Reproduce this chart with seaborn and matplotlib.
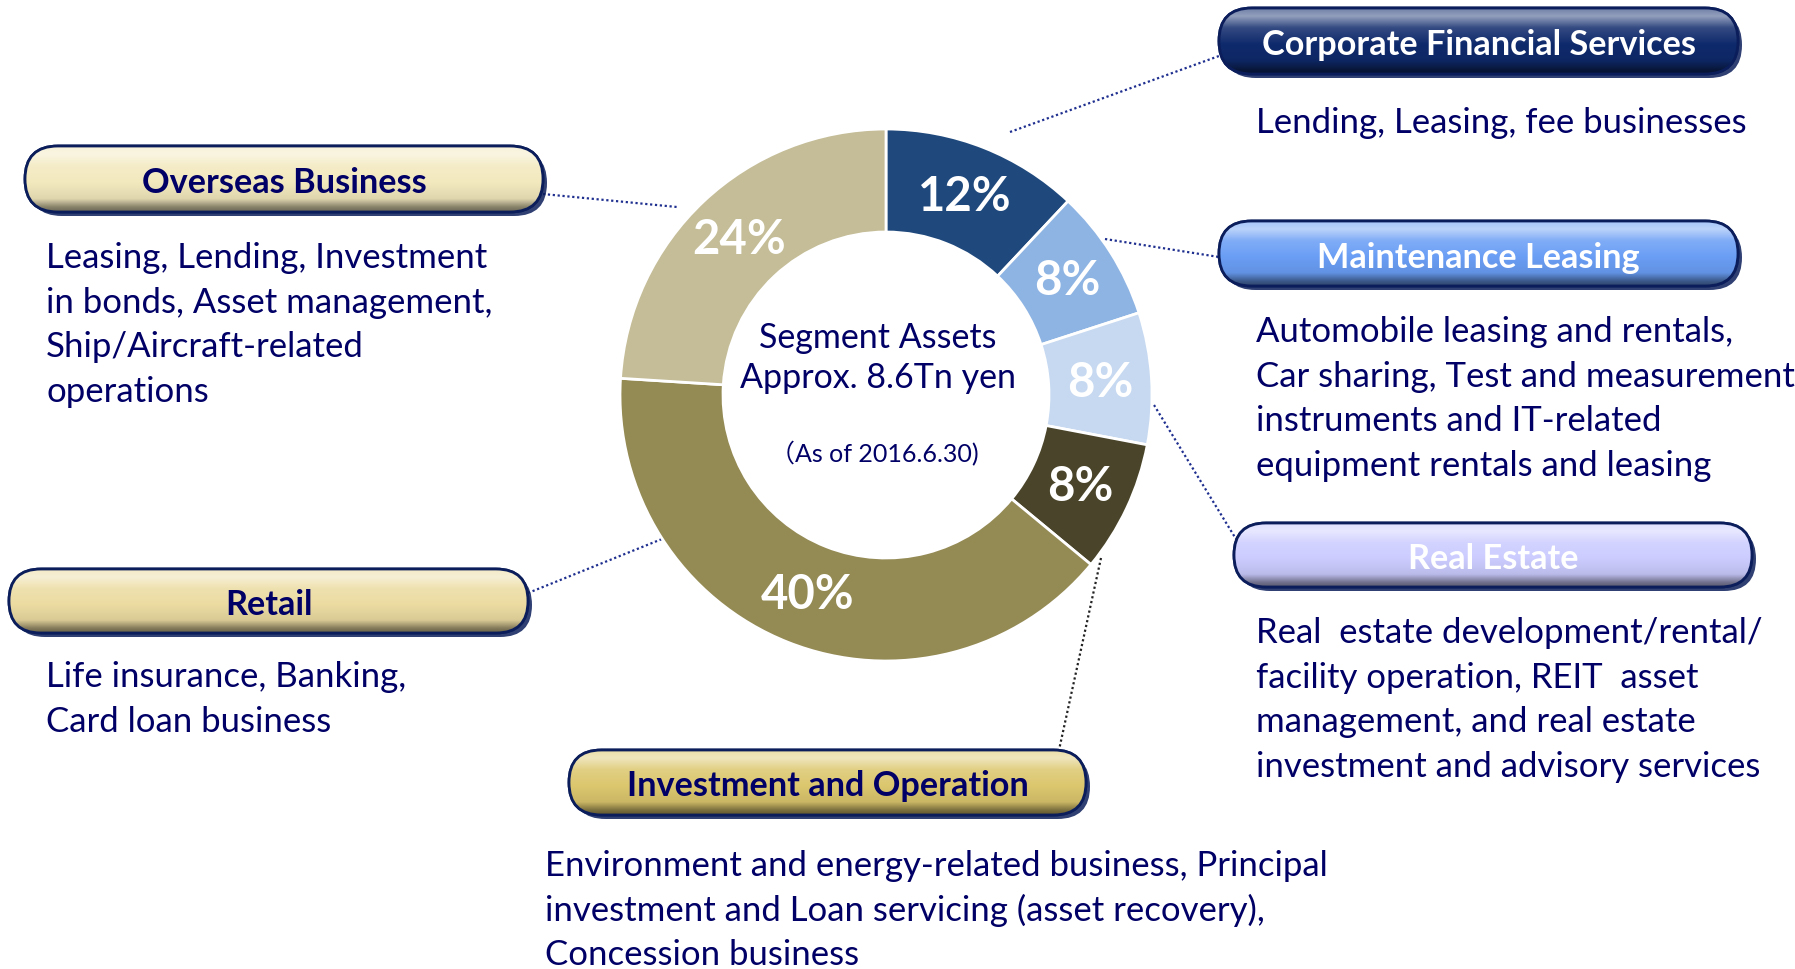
import numpy as np
import matplotlib
matplotlib.use("Agg")
import matplotlib.pyplot as plt
import seaborn as sns
from matplotlib.patches import FancyBboxPatch
from matplotlib.colors import to_rgb

sns.set_theme(style="white")
plt.rcParams['font.family'] = ['Lato', 'Noto Sans CJK JP', 'DejaVu Sans']

# data
segments = ["Corporate Financial Services", "Maintenance Leasing", "Real Estate",
            "Investment and Operation", "Retail", "Overseas Business"]
shares = [12, 8, 8, 8, 40, 24]
wedge_colors = ["#1F497D", "#8EB4E3", "#C6D9F1", "#4A452A", "#948A54", "#C4BD97"]
pill_colors = ["#0F2A6C", "#6A9EF5", "#CCCCFF", "#DCC76E", "#ECDCA2", "#F3E9BE"]
title_colors = ["white", "white", "white", "#000066", "#000066", "#000066"]
descriptions = [
    ["Lending, Leasing, fee businesses"],
    ["Automobile leasing and rentals,", "Car sharing, Test and measurement",
     "instruments and IT-related", "equipment rentals and leasing"],
    ["Real  estate development/rental/", "facility operation, REIT  asset",
     "management, and real estate", "investment and advisory services"],
    ["Environment and energy-related business, Principal",
     "investment and Loan servicing (asset recovery),", "Concession business"],
    ["Life insurance, Banking,", "Card loan business"],
    ["Leasing, Lending, Investment", "in bonds, Asset management,",
     "Ship/Aircraft-related", "operations"],
]
center_lines = ["Segment Assets", "Approx. 8.6Tn yen"]
date_note = "（As of 2016.6.30)"

W, H = 1795, 970
NAVY = "#000066"

# layout in pixels (top-left origin): pill box, description start, connector
pills = [(1219, 9, 519, 66), (1219, 222, 519, 65), (1234, 524, 518, 64),
         (569, 751, 517, 65), (9, 570, 519, 64), (25, 147, 518, 66)]
desc_pos = [(1256, 133), (1256, 342), (1256, 643), (545, 876), (46, 687), (46, 268)]
connectors = [((1010, 133), (1219, 57)), ((1105, 240), (1219, 258)),
              ((1154, 406), (1236, 540)), ((1101, 559), (1059, 751)),
              ((528, 594), (662, 540)), ((543, 195), (677, 208))]
conn_colors = ["#1F2F8F", "#1F2F8F", "#1F2F8F", "#222222", "#1F2F8F", "#1F2F8F"]
line_gap = 44.6


def fy(y):
    return H - y


fig = plt.figure(figsize=(W / 100, H / 100), dpi=100)
ax = fig.add_axes([0, 0, 1, 1])

# donut
wedges, _, pcts = ax.pie(shares, colors=wedge_colors, startangle=90, counterclock=False,
                         radius=266, center=(886, fy(396)),
                         wedgeprops=dict(width=103, edgecolor="white", linewidth=2),
                         autopct=lambda p: f"{p:.0f}%", pctdistance=0.806,
                         textprops=dict(color="white", fontsize=34, fontweight="bold"))
for w in wedges:
    w.set_zorder(2)
for t in pcts:
    t.set_zorder(3)

ax.text(878, fy(338), center_lines[0], ha="center", va="center", fontsize=24.5, color=NAVY, zorder=4)
ax.text(878, fy(378), center_lines[1], ha="center", va="center", fontsize=24.5, color=NAVY, zorder=4)
ax.text(874, fy(454), date_note, ha="center", va="center", fontsize=18, color=NAVY, zorder=4)

# connectors
for (p0, p1), c in zip(connectors, conn_colors):
    ax.plot([p0[0], p1[0]], [fy(p0[1]), fy(p1[1])], color=c, lw=1.6,
            linestyle=(0, (1, 1.2)), zorder=1)


def gradient(base):
    b = np.array(to_rgb(base))
    white = np.ones(3)
    dark = b * 0.55
    stops = [(0.0, b * 0.6 + white * 0.4), (0.12, b * 0.45 + white * 0.55),
             (0.3, b * 0.85 + white * 0.15), (0.55, b), (0.8, b * 0.92),
             (0.93, dark), (1.0, dark * 0.8)]
    ys = np.linspace(0, 1, 200)
    cols = np.stack([np.interp(ys, [s[0] for s in stops], [s[1][k] for s in stops])
                     for k in range(3)], axis=-1)
    return cols[:, None, :]


# pills
for name, (x, y, w, h), fc, tc in zip(segments, pills, pill_colors, title_colors):
    y0 = fy(y + h)
    shadow = FancyBboxPatch((x + 4, y0 - 4), w, h, boxstyle=f"round,pad=0,rounding_size={h / 2}",
                            fc="#0B1E5B", ec="none", alpha=0.85, zorder=3)
    ax.add_patch(shadow)
    body = FancyBboxPatch((x, y0), w, h, boxstyle=f"round,pad=0,rounding_size={h / 2}",
                          fc=fc, ec="#0B1E5B", lw=2, zorder=4)
    ax.add_patch(body)
    im = ax.imshow(gradient(fc), extent=(x, x + w, y0, y0 + h), origin="upper",
                   aspect="auto", interpolation="bicubic", zorder=4.5)
    im.set_clip_path(body)
    edge = FancyBboxPatch((x, y0), w, h, boxstyle=f"round,pad=0,rounding_size={h / 2}",
                          fc="none", ec="#0B1E5B", lw=2, zorder=5)
    ax.add_patch(edge)
    ax.text(x + w / 2, fy(y + h / 2), name, ha="center", va="center_baseline",
            fontsize=24.7, fontweight="bold", color=tc, zorder=6)

# descriptions
for lines, (x, y) in zip(descriptions, desc_pos):
    for i, line in enumerate(lines):
        ax.text(x, fy(y + i * line_gap), line, ha="left", va="baseline",
                fontsize=25, color=NAVY, zorder=6)

ax.set_xlim(0, W)
ax.set_ylim(0, H)
ax.set_aspect("equal")
ax.axis("off")
fig.savefig("out.png", dpi=100, facecolor="white")
plt.close(fig)
